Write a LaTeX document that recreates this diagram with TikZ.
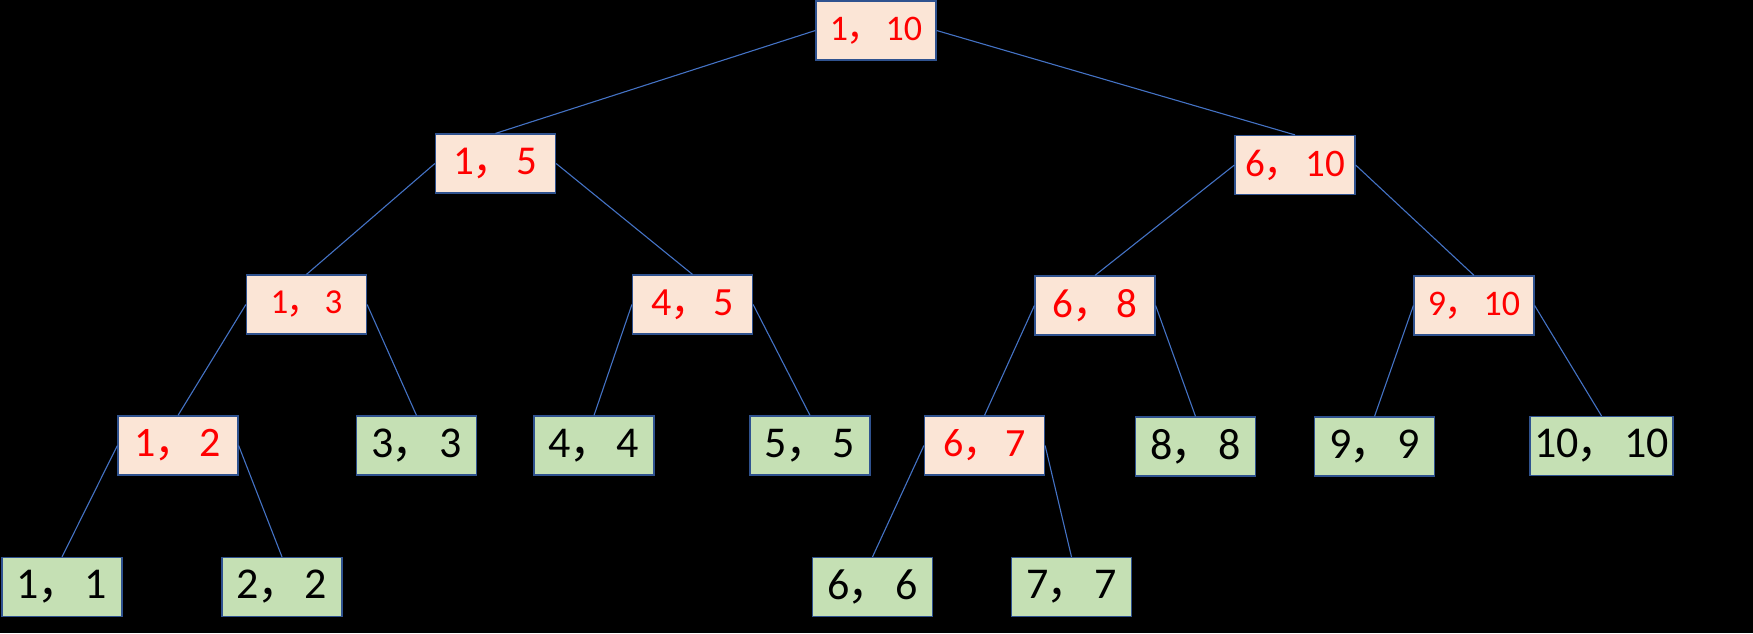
\documentclass[tikz,border=0pt]{standalone}
\usepackage{fontspec}
\setmainfont{Carlito}
\newfontfamily\cjk{Noto Sans CJK SC}
\usepackage{xcolor}
\usepackage{tikz}
\usetikzlibrary{positioning}
\definecolor{rangepink}{RGB}{251, 229, 214}
\definecolor{leafgreen}{RGB}{197, 224, 180}
\definecolor{boxblue}{RGB}{47, 82, 143}
\definecolor{edgeblue}{RGB}{68, 114, 196}
\definecolor{rangered}{RGB}{255, 0, 0}
\newcommand{\seg}[2]{#1\kern-0.04em{\cjk ，}\kern0.08em#2}
\newcommand{\fs}[1]{\fontsize{#1}{#1}\selectfont}

\begin{document}
\begin{tikzpicture}[
    x=1pt, y=1pt,
    inner/.style={rectangle, draw=boxblue, line width=1.2pt, fill=rangepink, text=rangered, minimum width=120pt, minimum height=59pt, inner sep=0pt},
    leaf/.style={rectangle, draw=boxblue, line width=1.2pt, fill=leafgreen, text=black, minimum width=120pt, minimum height=59pt, inner sep=0pt, font=\fs{44}},
    edge/.style={edgeblue, line width=1.1pt}
]
% Background
\fill[black] (0,0) rectangle (1753,633);
\useasboundingbox (0,0) rectangle (1753,633);

% Internal nodes (segments)
\node[inner, font=\fs{36}] (r1_10) at (876,602.5) {\seg{1}{10}};
\node[inner, font=\fs{41}] (r1_5) at (495.5,469.5) {\seg{1}{5}};
\node[inner, font=\fs{39}] (r6_10) at (1295,468) {\seg{6}{10}};
\node[inner, font=\fs{35}] (r1_3) at (306.5,328.5) {\seg{1}{3}};
\node[inner, font=\fs{40}] (r4_5) at (692.5,328.5) {\seg{4}{5}};
\node[inner, font=\fs{41}] (r6_8) at (1095,327.5) {\seg{6}{8}};
\node[inner, font=\fs{36}] (r9_10) at (1474,327.5) {\seg{9}{10}};
\node[inner, font=\fs{42}] (r1_2) at (178,187.5) {\seg{1}{2}};
\node[inner, font=\fs{40}] (r6_7) at (984.5,187.5) {\seg{6}{7}};

% Leaves
\node[leaf] (l3) at (416.5,187.5) {\seg{3}{3}};
\node[leaf] (l4) at (594,187.5) {\seg{4}{4}};
\node[leaf] (l5) at (810,187.5) {\seg{5}{5}};
\node[leaf] (l8) at (1195.5,186.5) {\seg{8}{8}};
\node[leaf] (l9) at (1374.5,186.5) {\seg{9}{9}};
\node[leaf, minimum width=143pt] (l10) at (1601.5,187) {\seg{10}{10}};
\node[leaf] (l1) at (62,46) {\seg{1}{1}};
\node[leaf] (l2) at (282,46) {\seg{2}{2}};
\node[leaf] (l6) at (872.5,46) {\seg{6}{6}};
\node[leaf] (l7) at (1071.5,46) {\seg{7}{7}};

% Edges (parent side -> child top)
\draw[edge] (r1_10.west) -- (r1_5.north);
\draw[edge] (r1_10.east) -- (r6_10.north);
\draw[edge] (r1_5.west) -- (r1_3.north);
\draw[edge] (r1_5.east) -- (r4_5.north);
\draw[edge] (r6_10.west) -- (r6_8.north);
\draw[edge] (r6_10.east) -- (r9_10.north);
\draw[edge] (r1_3.west) -- (r1_2.north);
\draw[edge] (r1_3.east) -- (l3.north);
\draw[edge] (r4_5.west) -- (l4.north);
\draw[edge] (r4_5.east) -- (l5.north);
\draw[edge] (r6_8.west) -- (r6_7.north);
\draw[edge] (r6_8.east) -- (l8.north);
\draw[edge] (r9_10.west) -- (l9.north);
\draw[edge] (r9_10.east) -- (l10.north);
\draw[edge] (r1_2.west) -- (l1.north);
\draw[edge] (r1_2.east) -- (l2.north);
\draw[edge] (r6_7.west) -- (l6.north);
\draw[edge] (r6_7.east) -- (l7.north);
\end{tikzpicture}
\end{document}
